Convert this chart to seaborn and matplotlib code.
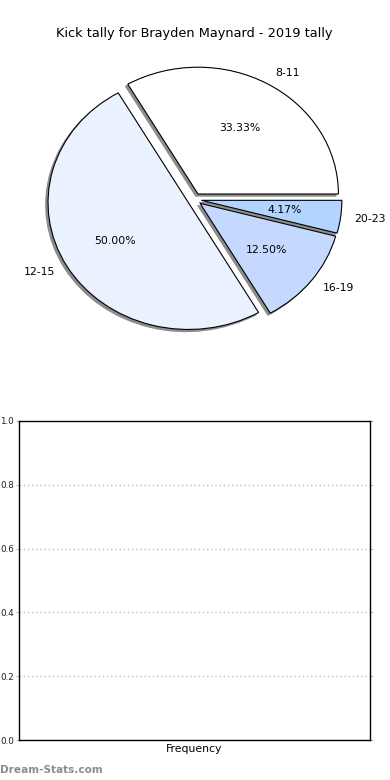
import seaborn as sns
import matplotlib.pyplot as plt

# kick tally data
ranges = ['8-11', '12-15', '16-19', '20-23']
kicks = [8, 12, 3, 1]
slice_colors = ['#ffffff', '#ebf2ff', '#c5d9ff', '#b2d4ff']
explode = [0.05, 0.05, 0.05, 0.05]
y_ticks = [0.0, 0.2, 0.4, 0.6, 0.8, 1.0]

sns.set_style('white')
plt.rcParams['font.family'] = ['DejaVu Sans']
plt.rcParams['text.color'] = 'black'

fig = plt.figure(figsize=(3.9, 7.8), dpi=100)
W, H = 390, 780

ax1 = fig.add_axes([19 / W, (H - 358) / H, 351 / W, 317 / H])
wedges, texts, autotexts = ax1.pie(kicks, labels=ranges, colors=slice_colors,
                                   explode=explode, autopct='%1.2f%%',
                                   shadow={'ox': -0.012, 'oy': -0.012,
                                           'facecolor': '0.55', 'edgecolor': '0.55',
                                           'alpha': 1},
                                   wedgeprops={'edgecolor': 'black', 'linewidth': 0.8},
                                   textprops={'fontsize': 7.8, 'color': 'black'})
ax1.set_aspect('auto')
ax1.set_xlim(-1.25, 1.25)
ax1.set_ylim(-1.25, 1.25)
ax1.set_title('Kick tally for Brayden Maynard - 2019 tally', fontsize=9.3, pad=3,
              color='black')

ax2 = fig.add_axes([19 / W, (H - 740) / H, 351 / W, 319 / H])
ax2.set_ylim(0, 1)
ax2.set_xlim(0, 1)
ax2.set_yticks(y_ticks)
ax2.set_yticklabels([f'{t:.1f}' for t in y_ticks], fontsize=6.3, color='#222222')
ax2.set_xticks([])
ax2.tick_params(axis='y', which='both', left=True, right=True, length=2,
                color='#bbbbbb', pad=1.5)
ax2.yaxis.grid(True, linestyle=(0, (1, 2)), color='#bbbbbb', linewidth=1)
for s in ax2.spines.values():
    s.set_color('black')
    s.set_linewidth(1)
ax2.set_xlabel('Frequency', fontsize=7.8, labelpad=3, color='black')

fig.text(0 / W, (H - 770) / H, 'Dream-Stats.com', fontsize=7.6, color='#8c8c8c',
         fontweight='bold', va='center', ha='left')

fig.savefig('out.png', dpi=100)
